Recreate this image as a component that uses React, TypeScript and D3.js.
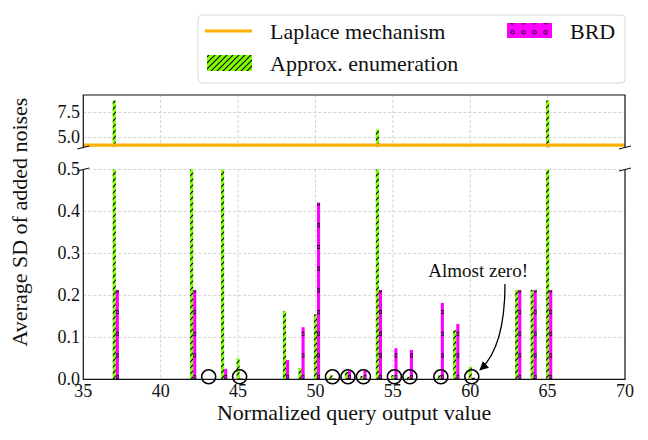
import React from "react";
import * as d3 from "d3";

const xValues = [37, 42, 43, 44, 45, 48, 49, 50, 51, 52, 53, 54, 55, 56, 58, 59, 60, 63, 64, 65];
const approxEnum = [8.7, 1.2, 0, 1.2, 0.05, 0.163, 0.027, 0.155, 0.01, 0.018, 0.008, 5.8, 0.01, 0.006, 0.01, 0.117, 0.03, 0.213, 0.213, 8.7];
const brdValues = [0.213, 0.213, 0, 0.025, 0.002, 0.046, 0.124, 0.421, 0.002, 0.021, 0.021, 0.213, 0.074, 0.07, 0.182, 0.132, 0.004, 0.213, 0.213, 0.213];
const laplaceValue = 4.243;
const circled = [43, 45, 51, 52, 53, 55, 56, 58, 60];
const xTicks = [35, 40, 45, 50, 55, 60, 65, 70];
const yTicksBottom = [0, 0.1, 0.2, 0.3, 0.4, 0.5];
const yTicksTop = [5.0, 7.5];

const SERIF = "'Liberation Serif', 'DejaVu Serif', serif";
const GREEN = "#7FFF00";
const MAGENTA = "#FF00FF";
const ORANGE = "#FFB000";

export default function App() {
  const W = 648, H = 440;
  const x = d3.scaleLinear().domain([35, 70]).range([83.3, 625]);
  const yB = d3.scaleLinear().domain([0, 0.5]).range([379.3, 169.5]);
  const yT = d3.scaleLinear().domain([4.0, 9.25]).range([147.5, 95]);
  const bw = x(35.2) - x(35);
  const [l, r] = x.range();
  const [b0, b1] = yB.range();
  const [t0, t1] = yT.range();
  const grid = "#c8c8c8";
  const fmt = d3.format(".1f");

  const brk = (cx: number, cy: number, k: string) => (
    <line key={k} x1={cx - 6} y1={cy + 1.5} x2={cx + 6} y2={cy - 1.5} stroke="#111" strokeWidth={1.2} />
  );

  return (
    <svg width={W} height={H} style={{ position: "absolute", left: 0, top: 0, background: "#fff" }} fontFamily={SERIF}>
      <defs>
        <pattern id="hatchG" patternUnits="userSpaceOnUse" width={6} height={6}>
          <rect width={6} height={6} fill={GREEN} />
          <path d="M0,6 L6,0 M-1.5,1.5 L1.5,-1.5 M4.5,7.5 L7.5,4.5" stroke="#000" strokeWidth={1.1} />
        </pattern>
        {xValues.map((v, i) => (
          <pattern key={i} id={`brd${i}`} patternUnits="userSpaceOnUse" x={x(v + 0.1)} y={b0 - 13} width={bw} height={21.7}>
            <rect width={bw} height={21.7} fill={MAGENTA} />
            <circle cx={bw / 2} cy={10.85} r={1.7} fill="none" stroke="#000" strokeWidth={0.9} />
          </pattern>
        ))}
        <pattern id="brdLeg" patternUnits="userSpaceOnUse" x={507} y={27.3} width={11} height={10}>
          <rect width={11} height={10} fill={MAGENTA} />
          <circle cx={5.5} cy={5} r={1.8} fill="none" stroke="#000" strokeWidth={0.9} />
        </pattern>
        <marker id="arrow" viewBox="0 0 10 10" refX={9} refY={5} markerWidth={7} markerHeight={7} orient="auto">
          <path d="M0,0 L10,5 L0,10 z" fill="#000" />
        </marker>
        <clipPath id="clipTop"><rect x={l} y={t1} width={r - l} height={t0 - t1} /></clipPath>
        <clipPath id="clipBot"><rect x={l} y={b1} width={r - l} height={b0 - b1} /></clipPath>
      </defs>

      {/* grids */}
      <g stroke={grid} strokeDasharray="3,2" strokeWidth={0.8}>
        {xTicks.slice(1, -1).map((t) => (
          <g key={t}>
            <line x1={x(t)} x2={x(t)} y1={t1} y2={t0} />
            <line x1={x(t)} x2={x(t)} y1={b1} y2={b0} />
          </g>
        ))}
        {yTicksBottom.slice(1).map((t) => (
          <line key={t} x1={l} x2={r} y1={yB(t)} y2={yB(t)} />
        ))}
        {yTicksTop.map((t) => (
          <line key={t} x1={l} x2={r} y1={yT(t)} y2={yT(t)} />
        ))}
      </g>

      {/* top panel */}
      <g clipPath="url(#clipTop)">
        {xValues.map((v, i) => (
          <rect key={i} x={x(v - 0.1)} width={bw} y={yT(approxEnum[i])} height={Math.max(0, t0 - yT(approxEnum[i]))} fill="url(#hatchG)" />
        ))}
        <line x1={l} x2={r} y1={yT(laplaceValue)} y2={yT(laplaceValue)} stroke={ORANGE} strokeWidth={3.2} />
      </g>

      {/* bottom panel */}
      <g clipPath="url(#clipBot)">
        {xValues.map((v, i) => {
          const yv = yB(Math.min(approxEnum[i], 0.6));
          return <rect key={"g" + i} x={x(v - 0.1)} width={bw} y={yv} height={b0 - yv} fill="url(#hatchG)" />;
        })}
        {xValues.map((v, i) => {
          const yv = yB(Math.min(brdValues[i], 0.6));
          return <rect key={"m" + i} x={x(v + 0.1)} width={bw} y={yv} height={b0 - yv} fill={`url(#brd${i})`} />;
        })}
      </g>

      {/* circles */}
      {circled.map((v) => (
        <circle key={v} cx={x(v + 0.1)} cy={yB(0.006)} r={7} fill="none" stroke="#000" strokeWidth={1.6} />
      ))}

      {/* spines */}
      <g stroke="#111" strokeWidth={1.2} fill="none">
        <path d={`M${l},${t0} L${l},${t1} L${r},${t1} L${r},${t0}`} />
        <path d={`M${l},${b1} L${l},${b0} L${r},${b0} L${r},${b1}`} />
      </g>
      {brk(l, t0, "a")}
      {brk(r, t0, "b")}
      {brk(l, b1, "c")}
      {brk(r, b1, "d")}

      {/* tick labels */}
      <g fontSize={18} fill="#111">
        {xTicks.map((t) => (
          <text key={t} x={x(t)} y={397} textAnchor="middle">{t}</text>
        ))}
        {yTicksBottom.map((t) => (
          <text key={t} x={80} y={yB(t)} dy="0.33em" textAnchor="end">{fmt(t)}</text>
        ))}
        {yTicksTop.map((t) => (
          <text key={t} x={80} y={yT(t)} dy="0.33em" textAnchor="end">{fmt(t)}</text>
        ))}
      </g>

      {/* axis labels */}
      <text x={(l + r) / 2} y={420} textAnchor="middle" fontSize={22} fill="#111">Normalized query output value</text>
      <text transform="translate(27,222) rotate(-90)" textAnchor="middle" fontSize={22} fill="#111">Average SD of added noises</text>

      {/* annotation */}
      <text x={428.3} y={277.3} fontSize={19} fill="#111">Almost zero!</text>
      <path d="M505,284 Q505,347 480,370" fill="none" stroke="#000" strokeWidth={1.3} markerEnd="url(#arrow)" />

      {/* legend */}
      <rect x={198} y={15} width={427} height={68} rx={4} fill="#fff" fillOpacity={0.85} stroke="#d8d8d8" />
      <line x1={205} x2={252} y1={31} y2={31} stroke={ORANGE} strokeWidth={3} />
      <text x={270} y={39.3} fontSize={22} fill="#111">Laplace mechanism</text>
      <rect x={207} y={55} width={45} height={16} fill="url(#hatchG)" />
      <text x={270} y={70.7} fontSize={22} fill="#111">Approx. enumeration</text>
      <rect x={507} y={23} width={45} height={15} fill="url(#brdLeg)" />
      <text x={570} y={39.3} fontSize={22} fill="#111">BRD</text>
    </svg>
  );
}
